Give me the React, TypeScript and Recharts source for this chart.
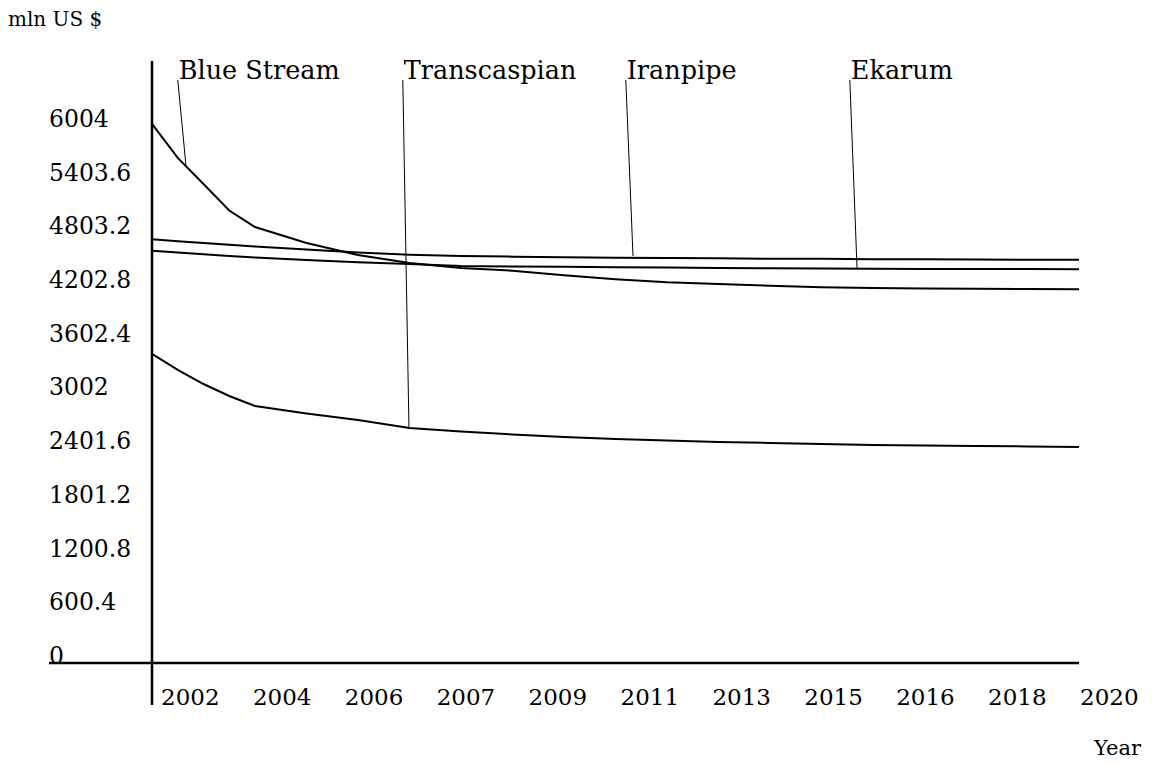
import { LineChart, Line, XAxis, YAxis, ReferenceLine } from "recharts";

const FONT = "'DejaVu Serif', serif";

// yearly readings (half years at the start where the curves bend)
const YEARS = [
  2002, 2002.5, 2003, 2003.5, 2004, 2005, 2006, 2007, 2008, 2009, 2010, 2011,
  2012, 2013, 2014, 2015, 2016, 2017, 2018, 2019, 2020,
];
const BLUE_STREAM = [
  6026, 5646, 5355, 5059, 4874, 4696, 4561, 4472, 4416, 4386, 4335, 4290, 4256,
  4237, 4218, 4200, 4192, 4187, 4183, 4181, 4178,
];
const IRANPIPE = [
  4737, 4716, 4696, 4676, 4657, 4623, 4590, 4565, 4550, 4543, 4537, 4531, 4528,
  4524, 4520, 4518, 4515, 4513, 4511, 4509, 4507,
];
const EKARUM = [
  4610, 4589, 4569, 4550, 4533, 4506, 4480, 4461, 4438, 4433, 4430, 4425, 4421,
  4417, 4414, 4411, 4407, 4405, 4405, 4404, 4403,
];
const TRANSCASPIAN = [
  3455, 3276, 3119, 2985, 2873, 2789, 2717, 2627, 2588, 2555, 2527, 2504, 2488,
  2471, 2460, 2448, 2437, 2432, 2426, 2421, 2415,
];

const Y_TICKS = [0, 600.4, 1200.8, 1801.2, 2401.6, 3002, 3602.4, 4202.8, 4803.2, 5403.6, 6004];
const X_TICKS = [2002, 2003.8, 2005.6, 2007.4, 2009.2, 2011, 2012.8, 2014.6, 2016.4, 2018.2, 2020];
const X_LABELS = ["2002", "2004", "2006", "2007", "2009", "2011", "2013", "2015", "2016", "2018", "2020"];

// callout labels: where the leader starts (top) and where it meets its curve
const LABEL_NAMES = ["Blue Stream", "Transcaspian", "Iranpipe", "Ekarum"];
const LABEL_TOP_YEARS = [2002.5, 2006.87, 2011.2, 2015.55];
const LABEL_LINE_YEARS = [2002.66, 2006.99, 2011.34, 2015.69];
const LABEL_LINE_VALUES = [5557, 2616, 4550, 4416];
const LABEL_TOP_VALUE = 6518;

const data = YEARS.map((year, i) => ({
  year,
  blue: BLUE_STREAM[i],
  iran: IRANPIPE[i],
  ekarum: EKARUM[i],
  trans: TRANSCASPIAN[i],
}));

const YTick = ({ y, payload }: any) => (
  <text x={41} y={y + 1} fontSize={23.5} fontFamily={FONT} fill="#000">
    {payload.value}
  </text>
);

const XTick = ({ x, y, payload, index }: any) => (
  <text x={x + 9 - index * 0.8} y={y + 42} fontSize={23} fontFamily={FONT} fill="#000">
    {X_LABELS[index] ?? payload.value}
  </text>
);

const leaderShape = (name: string) => (p: any) => (
  <g>
    <line x1={p.x1} y1={p.y1} x2={p.x2} y2={p.y2} stroke="#000" strokeWidth={1} />
    <text x={p.x1 + 1} y={p.y1 - 1} fontSize={25.5} fontFamily={FONT} fill="#000">
      {name}
    </text>
  </g>
);

const series = ["blue", "iran", "ekarum", "trans"];

export default function App() {
  return (
    <div style={{ position: "relative", width: 1140, height: 749 }}>
      <div
        style={{
          position: "absolute",
          left: 0,
          top: 0,
          fontFamily: FONT,
          fontSize: 20,
          lineHeight: "22px",
        }}
      >
        mln US $
      </div>
      <div
        style={{
          position: "absolute",
          left: 1086,
          top: 729,
          fontFamily: FONT,
          fontSize: 21,
          lineHeight: "22px",
        }}
      >
        Year
      </div>
      <LineChart
        width={1140}
        height={749}
        data={data}
        margin={{ top: 53, right: 69, bottom: 44, left: 0 }}
      >
        <XAxis
          type="number"
          dataKey="year"
          domain={[2002, 2020]}
          ticks={X_TICKS}
          tick={<XTick />}
          axisLine={false}
          tickLine={false}
          tickSize={0}
          tickMargin={0}
          height={50}
          interval={0}
        />
        <YAxis
          type="number"
          domain={[0, 6730]}
          ticks={Y_TICKS}
          tick={<YTick />}
          axisLine={false}
          tickLine={false}
          width={144}
          interval={0}
        />
        <ReferenceLine
          segment={[
            { x: 2000, y: 0 },
            { x: 2020, y: 0 },
          ]}
          stroke="#000"
          strokeWidth={2.5}
          ifOverflow="visible"
        />
        <ReferenceLine
          segment={[
            { x: 2002, y: -470 },
            { x: 2002, y: 6730 },
          ]}
          stroke="#000"
          strokeWidth={2.5}
          ifOverflow="visible"
        />
        {series.map((key) => (
          <Line
            key={key}
            type="linear"
            dataKey={key}
            stroke="#000"
            strokeWidth={2}
            dot={false}
            activeDot={false}
            isAnimationActive={false}
          />
        ))}
        {LABEL_NAMES.map((name, i) => (
          <ReferenceLine
            key={name}
            segment={[
              { x: LABEL_TOP_YEARS[i], y: LABEL_TOP_VALUE },
              { x: LABEL_LINE_YEARS[i], y: LABEL_LINE_VALUES[i] },
            ]}
            ifOverflow="visible"
            shape={leaderShape(name)}
          />
        ))}
      </LineChart>
    </div>
  );
}
